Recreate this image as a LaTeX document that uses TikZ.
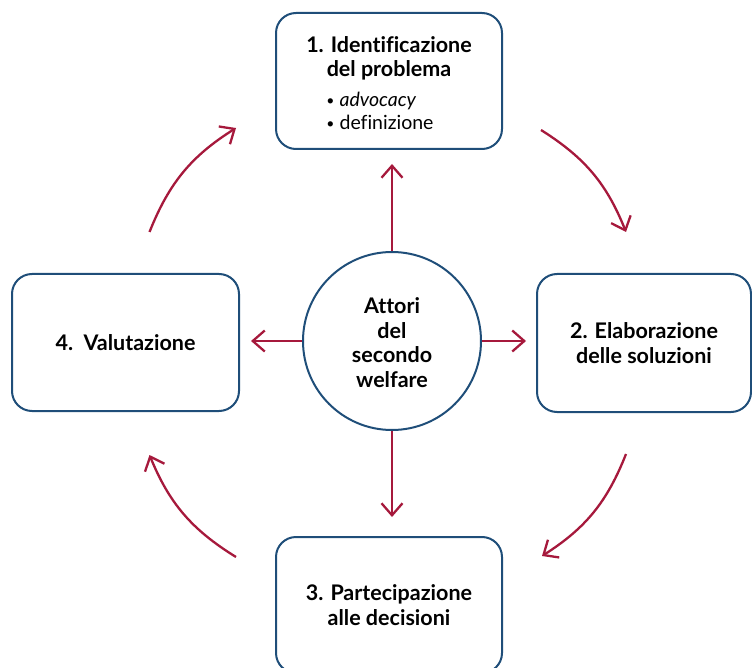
\documentclass[tikz,border=0pt]{standalone}
\usepackage{fontspec}
\setmainfont[Ligatures=NoCommon]{Lato}
\usetikzlibrary{arrows.meta, calc}
\definecolor{boxBlue}{HTML}{1F4E79}
\definecolor{arRed}{HTML}{A6193C}
\newcommand{\itemDot}{\raisebox{1.5pt}{\fontsize{14}{14}\selectfont\textbullet}}
\tikzstyle{stdText} = [align=center, inner sep=0pt, font=\fontsize{21.5}{24.5}\selectfont\bfseries]
\tikzstyle{phase} = [stdText, draw=boxBlue, line width=2pt, rectangle, rounded corners=20pt, minimum width=226pt, minimum height=136pt]
\tikzstyle{hub} = [stdText, draw=boxBlue, line width=2pt, circle, minimum size=178pt]
\tikzstyle{ar} = [draw=arRed, line width=2.3pt, -{Straight Barb[length=12pt,width=21pt]}]
\tikzstyle{cyc} = [ar, bend left=18]

\begin{document}
\begin{tikzpicture}[x=1pt, y=-1pt]
    \clip (0,0) rectangle (752,668);

    % the four phases
    \node (p1) [phase] at (389,81) {\rule{0pt}{27pt}1. Identificazione\\del problema\\[9pt]
        {\fontsize{19.5}{23}\selectfont\mdseries\begin{tabular}{@{}l@{}}\itemDot\ \textit{advocacy}\\ \itemDot\ definizione\end{tabular}}\hspace*{18pt}};
    \node (p2) [phase, minimum width=214pt, minimum height=138pt] at (644,343) {2. Elaborazione\\delle soluzioni};
    \node (p3) [phase] at (389,605) {3. Partecipazione\\alle decisioni};
    \node (p4) [phase, minimum width=227pt, minimum height=137pt] at (125.5,342.5) {4.\ \ Valutazione};

    % the actors in the middle
    \node (hub) [hub] at (392,341) {\rule{0pt}{19pt}Attori\\del\\secondo\\welfare};

    \draw [ar, shorten >=14pt] (hub.north) -- (hub.north |- p1.south);
    \draw [ar, shorten >=10pt] (hub.east) -- (hub.east -| p2.west);
    \draw [ar, shorten >=19pt] (hub.south) -- (hub.south |- p3.north);
    \draw [ar, shorten >=11pt] (hub.west) -- (hub.west -| p4.east);

    % the cycle round the phases
    \draw [cyc] ($(p4.north)+(24,-41)$) to ($(p1.west)+(-39,47)$);
    \draw [cyc] ($(p1.east)+(38,49)$) to ($(p2.north)+(-18,-41)$);
    \draw [cyc] ($(p2.south)+(-18,41)$) to ($(p3.east)+(39,-49)$);
    \draw [cyc] ($(p3.west)+(-39,-48)$) to ($(p4.south)+(24,43)$);
\end{tikzpicture}
\end{document}
